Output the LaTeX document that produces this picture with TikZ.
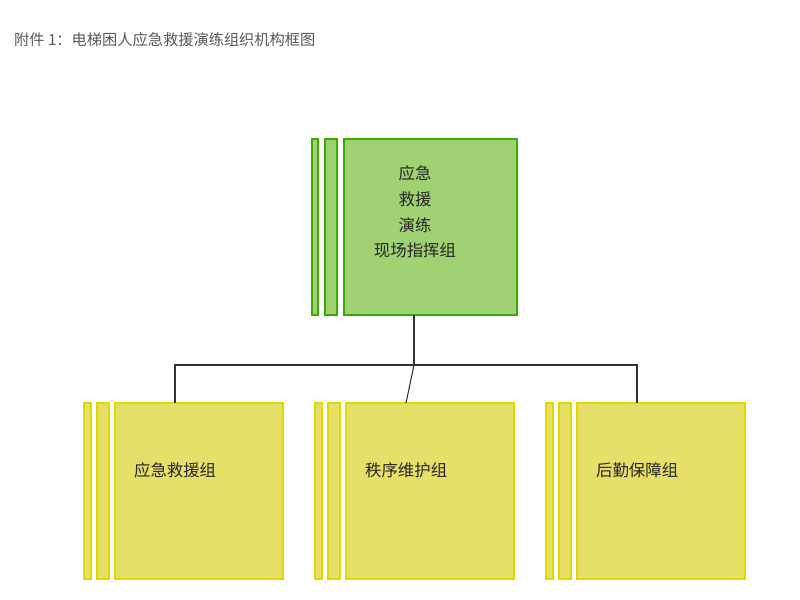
\documentclass[tikz,border=0pt]{standalone}
\usepackage{fontspec}
\setmainfont{Noto Sans CJK SC}
\begin{document}
\begin{tikzpicture}[x=0.03cm,y=-0.03cm,
    topbox/.style={draw=green!50!olive!90!black, line width=1pt, fill=green!35!olive!55!white},
    subbox/.style={draw=yellow!75!olive, line width=1pt, fill=yellow!60!olive!55!white},
    link/.style={draw=black!80, line width=0.9pt},
    lbl/.style={font=\fontsize{14pt}{16pt}\selectfont, text=black!85}]
  \useasboundingbox (0,0) rectangle (800,600);
  % Titel
  \node[anchor=west, font=\fontsize{13pt}{15pt}\selectfont, text=black!65] (title) at (10,40) {附件 1：电梯困人应急救援演练组织机构框图};

  % Leitung
  \draw[topbox] (312,139) rectangle (318,315);
  \draw[topbox] (325,139) rectangle (337,315);
  \draw[topbox] (344,139) rectangle (517,315);
  \coordinate (top) at (414,315);
  \node[lbl, align=center] (lead) at (415,212) {应急\\[6pt]救援\\[6pt]演练\\[6pt]现场指挥组};

  % Gruppen
  \foreach \x/\name/\txt in {84/rescue/应急救援组, 315/order/秩序维护组, 546/support/后勤保障组}{
    \draw[subbox] (\x,403) rectangle ++(7,176);
    \draw[subbox] (\x+13,403) rectangle ++(12,176);
    \draw[subbox] (\x+31,403) rectangle ++(168,176);
    \coordinate (\name) at (\x+91,403);
    \node[lbl, anchor=west] (\name-t) at (\x+46,470) {\txt};
  }

  % Verbindungen
  \coordinate (bus) at (414,365);
  \draw[link] (top) -- (bus);
  \draw[link] (rescue) |- (bus) -| (support);
  \draw[link] (bus) -- (order);
\end{tikzpicture}
\end{document}
